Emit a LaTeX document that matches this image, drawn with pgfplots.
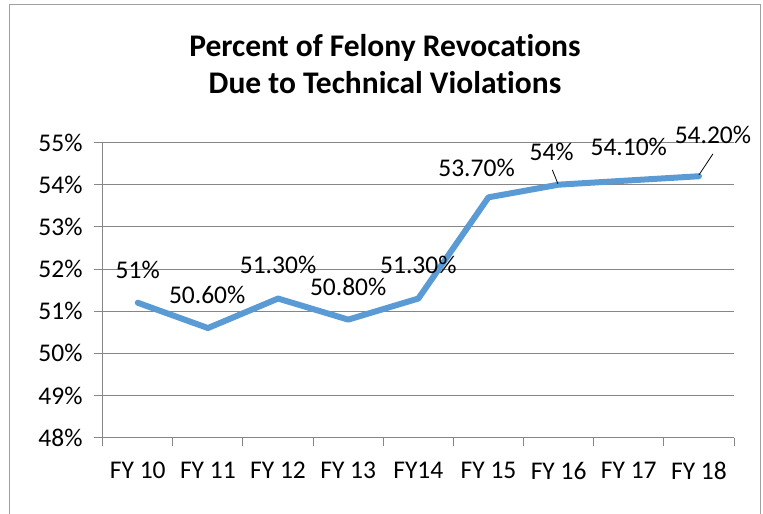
\documentclass[border=0pt]{standalone}
\usepackage{pgfplots}
\pgfplotsset{compat=1.18}
\usepackage{fontspec}
\setmainfont{Carlito}[Ligatures=NoCommon]
\definecolor{lineblue}{RGB}{91,155,213}
\definecolor{gridgray}{RGB}{134,134,134}
\definecolor{bordergray}{RGB}{160,160,160}
\newcommand{\lblfont}{\fontsize{25.5bp}{30bp}\selectfont}
\begin{document}
\begin{tikzpicture}
\clip (0,0) rectangle (763bp,514bp);
\draw[bordergray, line width=1bp] (9.5bp,-20bp) rectangle (760bp,509.5bp);
\node[font=\fontsize{31.5bp}{37bp}\selectfont\bfseries, align=center] at (385bp,450bp) {Percent of Felony Revocations\\Due to Technical Violations};
\begin{axis}[
  at={(102.7bp,76.3bp)}, anchor=south west,
  scale only axis, width=631.3bp, height=295.2bp,
  xmin=-0.5, xmax=8.5, ymin=48, ymax=55,
  ytick={48,...,55},
  xtick={0,...,8},
  xticklabels={FY 10,FY 11,FY 12,FY 13,FY14,FY 15,FY 16,FY 17,FY 18},
  minor xtick={-0.5,0.5,...,8.5},
  axis x line*=bottom, axis y line*=left,
  axis line style={gridgray, line width=1bp, -},
  ymajorgrids, grid style={gridgray, line width=1bp},
  major x tick style={draw=none},
  minor x tick style={gridgray, line width=1bp},
  major y tick style={gridgray, line width=1bp},
  tick align=outside,
  major tick length=8.7bp, minor tick length=8bp,
  yticklabel={\pgfmathprintnumber{\tick}\%},
  ticklabel style={font=\lblfont},
  yticklabel style={xshift=-8bp},
  xticklabel style={yshift=-12bp},
  /pgf/number format/assume math mode=true,
  clip=false,
]
\addplot[lineblue, line width=6bp, line join=round, line cap=round, mark=none]
  coordinates {(0,51.2)(1,50.6)(2,51.3)(3,50.8)(4,51.3)(5,53.7)(6,54.0)(7,54.1)(8,54.2)};
\draw[black, line width=0.8bp] (axis cs:5.99,54.02) -- (axis cs:5.91,54.35);
\draw[black, line width=0.8bp] (axis cs:8.0,54.23) -- (axis cs:8.2,54.73);
\node[font=\lblfont] at (axis cs:0,51.99) {51\%};
\node[font=\lblfont] at (axis cs:0.99,51.38) {50.60\%};
\node[font=\lblfont] at (axis cs:2.0,52.10) {51.30\%};
\node[font=\lblfont] at (axis cs:3.0,51.58) {50.80\%};
\node[font=\lblfont] at (axis cs:4.0,52.10) {51.30\%};
\node[font=\lblfont] at (axis cs:4.83,54.39) {53.70\%};
\node[font=\lblfont] at (axis cs:5.9,54.78) {54\%};
\node[font=\lblfont] at (axis cs:7.0,54.90) {54.10\%};
\node[font=\lblfont] at (axis cs:8.2,55.18) {54.20\%};
\end{axis}
\end{tikzpicture}
\end{document}
